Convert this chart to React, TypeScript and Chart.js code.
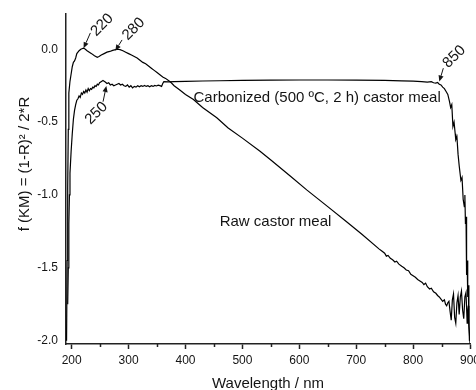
import React, { useEffect, useRef } from 'react';
import { Chart, registerables } from 'chart.js';

Chart.register(...registerables);

// ---------- data ----------
const rawWavelength = [
  191, 192, 193, 194, 195, 197, 199, 201, 203, 205, 207, 209, 211, 213, 216, 219, 221, 224, 227, 231,
  235, 240, 245, 248, 252, 257, 262, 267, 272, 277, 281, 285, 290, 295, 300, 305, 310, 315, 320, 325,
  330, 335, 340, 345, 350, 355, 360, 365, 370, 375, 380, 390, 400, 414, 430, 455, 475, 500, 531, 550,
  584, 613, 650, 682, 710, 740, 745, 750, 753, 756, 760, 764, 768, 771, 775, 780, 784, 788, 792, 796,
  800, 804, 808, 812, 816, 819, 822, 825, 829, 832, 836, 840, 843, 846, 849, 852, 855, 857, 859, 861,
  863, 865, 867, 869, 871, 873, 875, 877, 879, 881, 883, 885, 887, 889, 891, 893, 895, 896, 897, 898,
  899, 900,
];
const rawValues = [
  -2.0, -1.45, -0.95, -0.55, -0.3, -0.22, -0.17, -0.12, -0.09, -0.08, -0.06, -0.03, -0.02, -0.01, 0.0, 0.005, 0.008, 0.0, -0.01, -0.02,
  -0.03, -0.045, -0.055, -0.05, -0.04, -0.03, -0.02, -0.015, -0.008, -0.003, 0.0, -0.003, -0.01, -0.02, -0.03, -0.04, -0.05, -0.06, -0.075, -0.09,
  -0.1, -0.115, -0.13, -0.145, -0.16, -0.175, -0.19, -0.2, -0.215, -0.23, -0.25, -0.28, -0.31, -0.345, -0.4, -0.47, -0.54, -0.61, -0.7, -0.76,
  -0.87, -0.965, -1.08, -1.18, -1.27, -1.37, -1.385, -1.4, -1.42, -1.415, -1.435, -1.445, -1.46, -1.455, -1.475, -1.49, -1.5, -1.515, -1.52, -1.545,
  -1.555, -1.565, -1.58, -1.59, -1.6, -1.615, -1.605, -1.63, -1.645, -1.64, -1.665, -1.675, -1.69, -1.7, -1.715, -1.73, -1.72, -1.75, -1.76, -1.74,
  -1.73, -1.8, -1.86, -1.72, -1.68, -1.84, -1.88, -1.74, -1.69, -1.82, -1.7, -1.66, -1.79, -1.85, -1.7, -1.67, -1.88, -1.8, -1.76, -1.9,
  -1.95, -2.02,
];

const carbWavelength = [
  193, 194, 195, 196, 197, 199, 201, 203, 205, 207, 209, 211, 213, 215, 217, 219, 221, 223, 225, 227,
  229, 231, 233, 235, 237, 239, 241, 243, 245, 247, 249, 251, 253, 255, 257, 259, 262, 265, 268, 271,
  274, 277, 280, 283, 286, 289, 292, 295, 298, 301, 304, 307, 310, 313, 316, 319, 322, 325, 328, 331,
  334, 337, 340, 343, 346, 349, 352, 355, 358, 360, 362, 370, 380, 400, 430, 460, 500, 550, 600, 650,
  700, 750, 780, 800, 815, 825, 832, 836, 840, 843, 846, 849, 852, 855, 858, 861, 864, 866, 868, 870,
  872, 874, 875, 877, 879, 881, 884, 886, 888, 890, 891, 892, 893, 894, 895, 896, 897, 898, 899,
];
const carbValues = [
  -1.75, -1.5, -1.2, -1.0, -0.85, -0.7, -0.58, -0.48, -0.42, -0.38, -0.35, -0.34, -0.32, -0.33, -0.3, -0.31, -0.29, -0.3, -0.28, -0.295,
  -0.27, -0.285, -0.27, -0.275, -0.26, -0.265, -0.25, -0.255, -0.24, -0.245, -0.23, -0.225, -0.22, -0.215, -0.22, -0.225, -0.235, -0.23, -0.245, -0.24,
  -0.25, -0.245, -0.24, -0.235, -0.245, -0.24, -0.25, -0.255, -0.245, -0.26, -0.25, -0.265, -0.255, -0.26, -0.25, -0.258, -0.25, -0.255, -0.248, -0.255,
  -0.25, -0.257, -0.25, -0.255, -0.248, -0.252, -0.246, -0.25, -0.255, -0.235, -0.222, -0.224, -0.222, -0.22, -0.218, -0.216, -0.214, -0.212, -0.211, -0.211,
  -0.212, -0.214, -0.217, -0.219, -0.222, -0.225, -0.222, -0.23, -0.232, -0.228, -0.24, -0.245, -0.26, -0.27, -0.29, -0.31, -0.36, -0.4, -0.38, -0.53,
  -0.5, -0.58, -0.62, -0.6, -0.72, -0.8, -0.9, -0.88, -1.03, -1.08, -1.0, -1.2, -1.15, -1.55, -1.45, -1.7, -1.62, -1.85, -2.0,
];

const xTickValues = [200, 250, 300, 350, 400, 450, 500, 550, 600, 650, 700, 750, 800, 850, 900];
const yTickValues = [-2.0, -1.5, -1.0, -0.5, 0.0];

const curveLabels = [
  { text: 'Carbonized (500 ºC, 2 h) castor meal', x: 414, y: -0.36 },
  { text: 'Raw castor meal', x: 460, y: -1.213 },
];

const callouts = [
  { text: '220', x: 253.4, y: 0.167, from: [232.8, 0.112], to: [221, 0.007] },
  { text: '280', x: 308.8, y: 0.139, from: [288.5, 0.064], to: [276.7, -0.01] },
  { text: '250', x: 243.4, y: -0.439, from: [255.1, -0.36], to: [260.9, -0.252] },
  { text: '850', x: 872.4, y: -0.051, from: [853.1, -0.13], to: [846.1, -0.222] },
];

const FONT = '"Liberation Sans", Arial, Helvetica, sans-serif';
const TEXT = '#141414';

const annotationPlugin = {
  id: 'annotations',
  afterDatasetsDraw(chart: any) {
    const { ctx, scales } = chart;
    const xs = scales.x;
    const ys = scales.y;
    ctx.save();
    ctx.fillStyle = TEXT;
    ctx.strokeStyle = TEXT;
    ctx.font = `15px ${FONT}`;
    ctx.textAlign = 'left';
    ctx.textBaseline = 'alphabetic';
    for (const l of curveLabels) {
      ctx.fillText(l.text, xs.getPixelForValue(l.x), ys.getPixelForValue(l.y));
    }
    for (const c of callouts) {
      const tx = xs.getPixelForValue(c.x);
      const ty = ys.getPixelForValue(c.y);
      ctx.save();
      ctx.translate(tx, ty);
      ctx.rotate(-Math.PI / 4);
      ctx.textAlign = 'center';
      ctx.textBaseline = 'middle';
      ctx.fillText(c.text, 0, 0);
      ctx.restore();
      const x1 = xs.getPixelForValue(c.from[0]);
      const y1 = ys.getPixelForValue(c.from[1]);
      const x2 = xs.getPixelForValue(c.to[0]);
      const y2 = ys.getPixelForValue(c.to[1]);
      const ang = Math.atan2(y2 - y1, x2 - x1);
      const L = 6;
      const W = 2.6;
      const bx = x2 - L * Math.cos(ang);
      const by = y2 - L * Math.sin(ang);
      ctx.lineWidth = 1;
      ctx.beginPath();
      ctx.moveTo(x1, y1);
      ctx.lineTo(bx, by);
      ctx.stroke();
      ctx.beginPath();
      ctx.moveTo(x2, y2);
      ctx.lineTo(bx + W * Math.sin(ang), by - W * Math.cos(ang));
      ctx.lineTo(bx - W * Math.sin(ang), by + W * Math.cos(ang));
      ctx.closePath();
      ctx.fill();
    }
    ctx.restore();
  },
  afterDraw(chart: any) {
    const { ctx, chartArea, scales } = chart;
    const xs = scales.x;
    ctx.save();
    // minor ticks on x axis
    ctx.strokeStyle = '#222';
    ctx.lineWidth = 1.5;
    for (const v of xTickValues) {
      if (v % 100 === 0) continue;
      const px = Math.round(xs.getPixelForValue(v)) + 0.5;
      ctx.beginPath();
      ctx.moveTo(px, chartArea.bottom);
      ctx.lineTo(px, chartArea.bottom + 3);
      ctx.stroke();
    }
    // y axis title
    ctx.fillStyle = TEXT;
    ctx.font = `15px ${FONT}`;
    ctx.textAlign = 'center';
    ctx.textBaseline = 'middle';
    ctx.translate(25, 164);
    ctx.rotate(-Math.PI / 2);
    ctx.fillText('f (KM) = (1-R)² / 2*R', 0, 0);
    ctx.restore();
  },
};

export default function App() {
  const canvasRef = useRef<HTMLCanvasElement | null>(null);

  useEffect(() => {
    document.body.style.margin = '0';
    const canvas = canvasRef.current;
    if (!canvas) return;
    const rawPoints = rawWavelength.map((w, i) => ({ x: w, y: rawValues[i] }));
    const carbPoints = carbWavelength.map((w, i) => ({ x: w, y: carbValues[i] }));

    const chart = new Chart(canvas, {
      type: 'line',
      data: {
        datasets: [
          {
            label: 'Raw castor meal',
            data: rawPoints,
            borderColor: '#000',
            borderWidth: 1.2,
            pointRadius: 0,
            tension: 0,
            fill: false,
          },
          {
            label: 'Carbonized (500 ºC, 2 h) castor meal',
            data: carbPoints,
            borderColor: '#000',
            borderWidth: 1.2,
            pointRadius: 0,
            tension: 0,
            fill: false,
          },
        ],
      },
      options: {
        responsive: false,
        animation: false,
        events: [],
        layout: { padding: { top: 14, right: 6, left: 0, bottom: 0 } },
        plugins: {
          legend: { display: false },
          tooltip: { enabled: false },
          title: { display: false },
        },
        scales: {
          x: {
            type: 'linear',
            min: 190,
            max: 900,
            afterBuildTicks: (scale: any) => {
              scale.ticks = xTickValues.map((v) => ({ value: v }));
            },
            afterFit: (scale: any) => {
              scale.height = 46;
              scale.paddingLeft = 0;
              scale.paddingRight = 0;
            },
            border: { display: true, color: '#222', width: 1.5 },
            grid: {
              drawOnChartArea: false,
              drawTicks: true,
              tickLength: 5,
              tickWidth: 1.5,
              tickColor: (ctx: any) => (ctx.tick && ctx.tick.value % 100 === 0 ? '#222' : 'rgba(0,0,0,0)'),
            },
            ticks: {
              autoSkip: false,
              maxRotation: 0,
              padding: 4,
              color: TEXT,
              font: { family: FONT, size: 12 },
              callback: (v: any) => (Number(v) % 100 === 0 ? String(v) : ''),
            },
            title: {
              display: true,
              text: 'Wavelength / nm',
              color: TEXT,
              font: { family: FONT, size: 15, lineHeight: 1 },
              padding: { top: 0, bottom: -1 },
            },
          },
          y: {
            type: 'linear',
            min: -2.023,
            max: 0.242,
            afterBuildTicks: (scale: any) => {
              scale.ticks = yTickValues.map((v) => ({ value: v }));
            },
            afterFit: (scale: any) => {
              scale.width = 66;
              scale.paddingTop = 0;
              scale.paddingBottom = 0;
            },
            border: { display: true, color: '#222', width: 1.5 },
            grid: { drawOnChartArea: false, drawTicks: false },
            ticks: {
              padding: 8,
              color: TEXT,
              font: { family: FONT, size: 12 },
              callback: (v: any) => Number(v).toFixed(1),
            },
          },
        },
      },
      plugins: [annotationPlugin],
    } as any);

    return () => {
      chart.destroy();
    };
  }, []);

  return (
    <div style={{ width: 476, height: 390 }}>
      <canvas ref={canvasRef} width={476} height={390} />
    </div>
  );
}
